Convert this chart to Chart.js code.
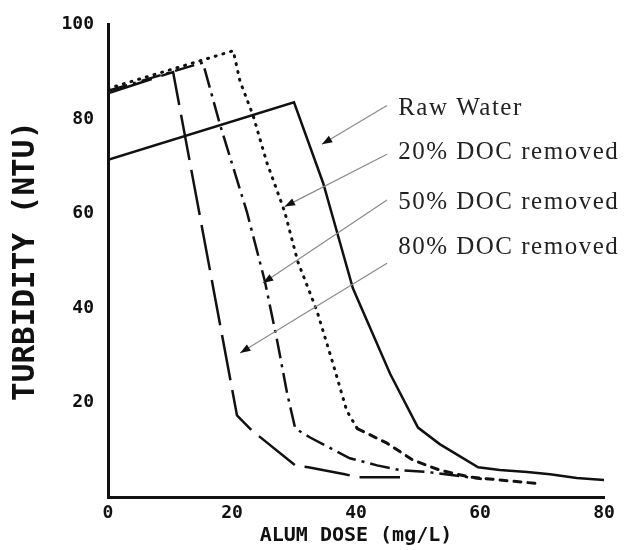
<!DOCTYPE html>
<html>
<head>
<meta charset="utf-8">
<script src="https://cdn.jsdelivr.net/npm/chart.js@4.4.1/dist/chart.umd.min.js"></script>
<style>
  html, body { margin: 0; padding: 0; background: #fff; }
  #caja { width: 627px; height: 550px; }
</style>
</head>
<body>
<div id="caja"><canvas id="myChart" width="627" height="550"></canvas></div>
<script>
// dosis de alumbre (mg/L) y turbiedad (NTU)
const rawX = [0, 30, 34.7, 39.5, 45.5, 50, 53.5, 59.7, 63.2, 67.6, 71.3, 75.6, 80];
const rawY = [71.4, 83.6, 66.5, 44.2, 26.1, 14.7, 11.2, 6.3, 5.7, 5.3, 4.8, 4.0, 3.6];

const doc20X = [0, 20.2, 21.3, 23.4, 25.6, 28.5, 30.6, 33.7, 36.3, 38.5, 40.2, 45, 49.2, 53.5, 58.4, 68.9];
const doc20Y = [86.5, 94.5, 88, 80.8, 70.9, 60.4, 49.9, 39.4, 28.2, 18.3, 14.5, 11.4, 7.8, 5.7, 4.2, 2.9];

const doc50X = [0, 15.3, 18.1, 22.4, 25.3, 27.3, 28.9, 30.2, 32.6, 39, 43.4, 47.1, 51.5, 60.3];
const doc50Y = [86, 92, 78.7, 60.4, 45.7, 33, 21.9, 14.5, 12.6, 8.2, 6.7, 5.7, 5.3, 3.8];

const doc80X = [0, 10.5, 20.8, 23.2, 30.2, 32.3, 38.2, 40.3, 47.1];
const doc80Y = [85.5, 90, 17.3, 14.1, 6.7, 6.3, 4.8, 4.2, 4.2];

const ticksX = [0, 20, 40, 60, 80];
const ticksY = [20, 40, 60, 80, 100];

const nombres = ["Raw Water", "20% DOC removed", "50% DOC removed", "80% DOC removed"];

// flechas de las etiquetas (en unidades de los ejes)
const textoX = 46.8;
const textoY = [81, 71.6, 61, 51.4];
const flechaInicio = [[45, 82.9], [45, 72.6], [45, 62.9], [45, 49.5]];
const flechaPunta = [[34.5, 74.7], [28.5, 61.5], [25, 45.3], [21.3, 30.5]];

function juntar(xs, ys) {
  return xs.map(function (x, i) { return { x: x, y: ys[i] }; });
}

const pluginEtiquetas = {
  id: "etiquetas",
  afterDraw: function (chart) {
    const ctx = chart.ctx;
    const sx = chart.scales.x;
    const sy = chart.scales.y;
    ctx.save();
    for (let i = 0; i < nombres.length; i++) {
      const x0 = sx.getPixelForValue(flechaInicio[i][0]);
      const y0 = sy.getPixelForValue(flechaInicio[i][1]);
      const x1 = sx.getPixelForValue(flechaPunta[i][0]);
      const y1 = sy.getPixelForValue(flechaPunta[i][1]);
      ctx.strokeStyle = "#8a8a8a";
      ctx.lineWidth = 1.2;
      ctx.beginPath();
      ctx.moveTo(x0, y0);
      ctx.lineTo(x1, y1);
      ctx.stroke();
      // punta de flecha
      const ang = Math.atan2(y1 - y0, x1 - x0);
      ctx.fillStyle = "#111";
      ctx.beginPath();
      ctx.moveTo(x1, y1);
      ctx.lineTo(x1 - 11 * Math.cos(ang - 0.35), y1 - 11 * Math.sin(ang - 0.35));
      ctx.lineTo(x1 - 11 * Math.cos(ang + 0.35), y1 - 11 * Math.sin(ang + 0.35));
      ctx.closePath();
      ctx.fill();
      // texto
      ctx.font = "25px 'Liberation Serif'";
      if ("letterSpacing" in ctx) ctx.letterSpacing = "1.5px";
      ctx.fillStyle = "#222";
      ctx.textAlign = "left";
      ctx.textBaseline = "alphabetic";
      ctx.fillText(nombres[i], sx.getPixelForValue(textoX), sy.getPixelForValue(textoY[i]));
    }
    ctx.restore();
  },
};

const data = {
  datasets: [
    {
      label: nombres[0],
      data: juntar(rawX, rawY),
      borderColor: "#111",
      borderWidth: 2.5,
    },
    {
      label: nombres[1],
      data: juntar(doc20X, doc20Y),
      borderColor: "#111",
      borderWidth: 3,
      borderCapStyle: "round",
      segment: {
        borderDash: function (c) { return c.p0DataIndex >= 10 ? [7, 7] : [1, 7]; },
      },
    },
    {
      label: nombres[2],
      data: juntar(doc50X, doc50Y),
      borderColor: "#111",
      borderWidth: 2.5,
      borderDash: [20, 6, 3, 6],
    },
    {
      label: nombres[3],
      data: juntar(doc80X, doc80Y),
      borderColor: "#111",
      borderWidth: 2.5,
      borderDash: [46, 10],
    },
  ],
};

const fuenteTicks = { family: "'DejaVu Sans Mono'", size: 18, weight: "bold" };

const config = {
  type: "line",
  data: data,
  plugins: [pluginEtiquetas],
  options: {
    responsive: false,
    animation: false,
    layout: { padding: { top: 22, right: 23, left: 0, bottom: 0 } },
    elements: { point: { radius: 0 }, line: { tension: 0 } },
    plugins: { legend: { display: false }, tooltip: { enabled: false } },
    scales: {
      x: {
        type: "linear",
        min: 0,
        max: 80,
        afterFit: function (s) { s.height = 53; },
        afterBuildTicks: function (s) { s.ticks = ticksX.map(function (v) { return { value: v }; }); },
        grid: { display: false, drawTicks: false },
        border: { display: true, color: "#111", width: 3 },
        ticks: { color: "#111", font: fuenteTicks, padding: 6, maxRotation: 0 },
        title: {
          display: true,
          text: "ALUM DOSE (mg/L)",
          color: "#111",
          font: { family: "'DejaVu Sans Mono'", size: 20, weight: "bold" },
          padding: { top: 0, bottom: 2 },
        },
      },
      y: {
        type: "linear",
        min: 0,
        max: 100,
        afterFit: function (s) { s.width = 108; },
        afterBuildTicks: function (s) { s.ticks = ticksY.map(function (v) { return { value: v }; }); },
        grid: { display: false, drawTicks: false },
        border: { display: true, color: "#111", width: 3 },
        ticks: { color: "#111", font: fuenteTicks, padding: 14 },
        title: {
          display: true,
          text: "TURBIDITY (NTU)",
          color: "#111",
          font: { family: "'DejaVu Sans Mono'", size: 31, weight: "bold" },
          padding: { top: 7, bottom: 0 },
        },
      },
    },
  },
};

const myChart = new Chart(document.getElementById("myChart"), config);
</script>
</body>
</html>
